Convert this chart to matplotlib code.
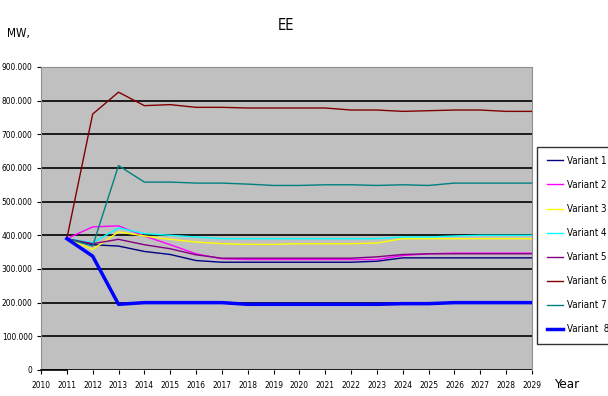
import matplotlib
matplotlib.use("Agg")
import matplotlib.pyplot as plt
from matplotlib.ticker import FuncFormatter

plt.rcParams['font.family'] = ['DejaVu Sans']
plt.rcParams['font.stretch'] = 'condensed'

years = list(range(2011, 2030))

# capacity per variant, thousand MW
variant_1 = [390, 372, 368, 352, 343, 325, 320, 320, 320, 320, 320, 320, 323, 333, 333, 333, 333, 333, 333]
variant_2 = [390, 425, 428, 398, 372, 345, 330, 328, 328, 328, 328, 328, 328, 340, 345, 347, 347, 347, 347]
variant_3 = [390, 358, 410, 398, 388, 380, 375, 373, 373, 375, 375, 375, 377, 390, 390, 390, 390, 390, 390]
variant_4 = [390, 378, 422, 405, 400, 395, 390, 390, 390, 390, 390, 390, 390, 395, 395, 398, 400, 400, 400]
variant_5 = [390, 375, 388, 372, 360, 342, 332, 332, 332, 332, 332, 332, 336, 343, 345, 345, 345, 345, 345]
variant_6 = [390, 760, 825, 785, 788, 780, 780, 778, 778, 778, 778, 772, 772, 768, 770, 772, 772, 768, 768]
variant_7 = [390, 368, 607, 558, 558, 555, 555, 552, 548, 548, 550, 550, 548, 550, 548, 555, 555, 555, 555]
variant_8 = [390, 338, 195, 200, 200, 200, 200, 195, 195, 195, 195, 195, 195, 197, 197, 200, 200, 200, 200]

series = [
    ("Variant 1", variant_1, "#000080", 1.0),
    ("Variant 2", variant_2, "#FF00FF", 1.0),
    ("Variant 3", variant_3, "#FFFF00", 1.0),
    ("Variant 4", variant_4, "#00FFFF", 1.0),
    ("Variant 5", variant_5, "#800080", 1.0),
    ("Variant 6", variant_6, "#800000", 1.0),
    ("Variant 7", variant_7, "#008080", 1.0),
    ("Variant  8", variant_8, "#0000FF", 2.5),
]

fig = plt.figure(figsize=(6.08, 3.96), dpi=100)
ax = fig.add_axes([0.0674, 0.0657, 0.8076, 0.7653])
ax.set_facecolor("#C0C0C0")

for label, vals, color, lw in series:
    ax.plot(years, [v * 1000 for v in vals], color=color, lw=lw, label=label, zorder=3)

ax.set_xlim(2010, 2029)
ax.set_ylim(0, 900000)
ax.set_xticks(range(2010, 2030))
ax.set_yticks(range(0, 900001, 100000))
ax.yaxis.set_major_formatter(FuncFormatter(
    lambda v, p: "0" if v == 0 else f"{int(v / 1000)}.000"))
ax.grid(axis="y", color="black", lw=1.2, zorder=1)
ax.tick_params(labelsize=6, length=3, width=0.8, direction="out", pad=3)
ax.tick_params(axis="x", pad=5)

for side in ("top", "right"):
    ax.spines[side].set_color("#909090")
ax.spines["left"].set_color("#909090")
ax.spines["bottom"].set_bounds(2010, 2011)
ax.spines["bottom"].set_linewidth(1.2)

fig.text(0.47, 0.935, "EE", fontsize=10.5, ha="center", va="center")
fig.text(0.012, 0.915, "MW,", fontsize=8.5, ha="left", va="center")
fig.text(0.912, 0.03, "Year", fontsize=9.5, ha="left", va="center")

leg = fig.legend(loc="upper left", bbox_to_anchor=(0.884, 0.63), fontsize=7,
                 frameon=True, fancybox=False, edgecolor="black",
                 labelspacing=1.45, handlelength=1.7, handletextpad=0.4,
                 borderpad=0.95, borderaxespad=0)
leg.get_frame().set_linewidth(1.0)

fig.savefig("out.png", dpi=100)
